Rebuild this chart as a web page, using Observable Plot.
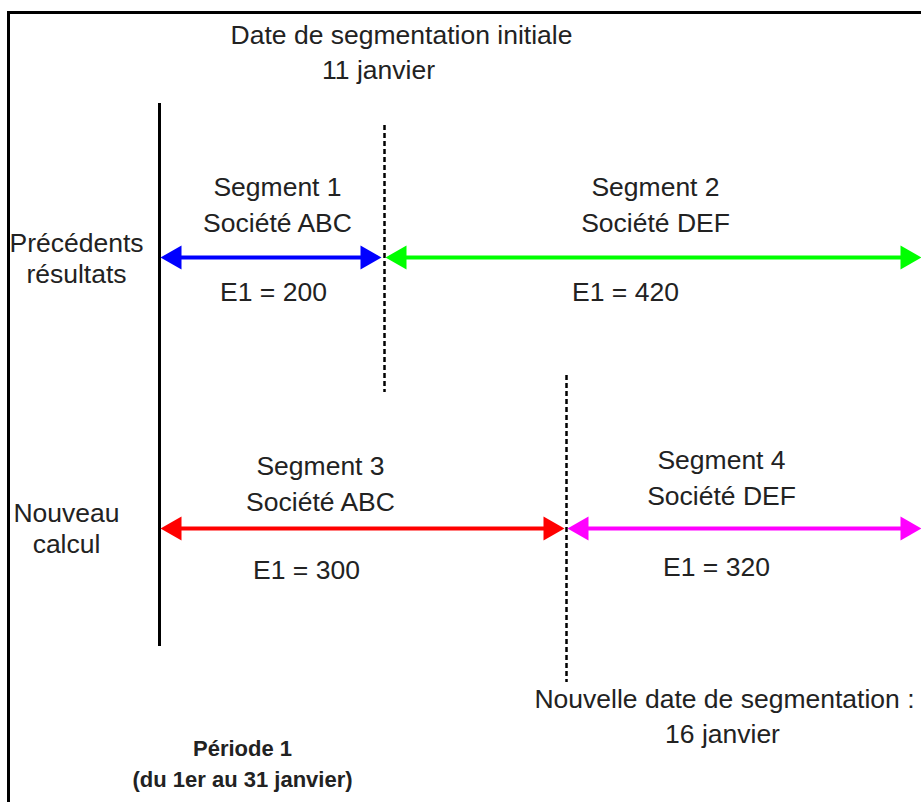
<!DOCTYPE html>
<html><head><meta charset="utf-8">
<script src="https://cdn.jsdelivr.net/npm/d3@7"></script>
<script src="https://cdn.jsdelivr.net/npm/@observablehq/plot@0.6"></script>
<style>body{margin:0;background:#fff}</style>
</head><body><div id="chart"></div>
<script>
// --- data (diagram layout units) ---
const segmentNames = ["Segment 1", "Segment 2", "Segment 3", "Segment 4"];
const companies = ["Société ABC", "Société DEF", "Société ABC", "Société DEF"];
const e1Values = [200, 420, 300, 320];
const segStart = [160, 385, 160, 567];
const segEnd = [381, 921, 564, 921];
const segRowY = [257, 257, 528, 528];
const segColors = ["#0000ff", "#00ff00", "#ff0000", "#ff00ff"];
const segLabelX = [277, 655, 320, 721];
const segLabelY = [187, 187, 466, 460];
const e1LabelX = [273, 625, 306, 716];
const e1LabelY = [292, 292, 570, 567];

const rowLabels = [["Précédents", "résultats"], ["Nouveau", "calcul"]];
const rowLabelX = [76, 66];
const rowLabelY = [243, 513];

const dateLabels = [["Date de segmentation initiale", "11 janvier"], ["Nouvelle date de segmentation :", "16 janvier"]];
const dateLabelX = [[401, 378], [724, 722]];
const dateLabelY = [35, 699];
const dateLineX = [384, 566];
const dateLineY1 = [125, 375];
const dateLineY2 = [392, 682];

const periodLabels = ["Période 1", "(du 1er au 31 janvier)"];
const periodX = 242, periodY = 748;
const periodLine = {x: 159, y1: 103, y2: 646};

// --- build tables ---
const segs = segmentNames.map((name, i) => ({
  name, company: companies[i], e1: `E1 = ${e1Values[i]}`,
  x1: segStart[i], x2: segEnd[i], y: segRowY[i], color: segColors[i],
  lx: segLabelX[i], ly: segLabelY[i], ex: e1LabelX[i], ey: e1LabelY[i]
}));
const texts = [];
segs.forEach(s => {
  texts.push({x: s.lx, y: s.ly, t: s.name});
  texts.push({x: s.lx, y: s.ly + 36, t: s.company});
  texts.push({x: s.ex, y: s.ey, t: s.e1});
});
rowLabels.forEach((ls, i) => ls.forEach((t, j) => texts.push({x: rowLabelX[i], y: rowLabelY[i] + j * 31, t})));
dateLabels.forEach((ls, i) => ls.forEach((t, j) => texts.push({x: dateLabelX[i][j], y: dateLabelY[i] + j * 35, t})));
const boldTexts = periodLabels.map((t, j) => ({x: periodX, y: periodY + j * 31, t}));
const dates = dateLineX.map((x, i) => ({x, y1: dateLineY1[i], y2: dateLineY2[i]}));

const chart = Plot.plot({
  width: 921, height: 802, margin: 0,
  x: {domain: [0, 921], axis: null},
  y: {domain: [0, 802], reverse: true, axis: null},
  style: {fontFamily: "'Liberation Sans', Arial, sans-serif", background: "#fff"},
  marks: [
    // frame (top and left)
    Plot.ruleY([12], {x1: 7, x2: 921, stroke: "#000", strokeWidth: 3}),
    Plot.ruleX([8], {y1: 11, y2: 802, stroke: "#000", strokeWidth: 3}),
    // period start line
    Plot.ruleX([periodLine], {x: "x", y1: "y1", y2: "y2", stroke: "#000", strokeWidth: 3}),
    // segmentation dates
    Plot.ruleX(dates, {x: "x", y1: "y1", y2: "y2", stroke: "#000", strokeWidth: 2.5, strokeDasharray: "5,3"}),
    // segment arrows
    Plot.ruleY(segs, {y: "y", x1: d => d.x1 + 10, x2: d => d.x2 - 10, stroke: "color", strokeWidth: 4}),
    Plot.dot(segs, {x: "x2", y: "y", symbol: "triangle", r: 9, rotate: 90, dx: -14, fill: "color", stroke: "none"}),
    Plot.dot(segs, {x: "x1", y: "y", symbol: "triangle", r: 9, rotate: -90, dx: 14, fill: "color", stroke: "none"}),
    // texts
    Plot.text(texts, {x: "x", y: "y", text: "t", fontSize: 26.5, fill: "#222"}),
    Plot.text(boldTexts, {x: "x", y: "y", text: "t", fontSize: 22, fontWeight: "bold", fill: "#222"})
  ]
});
chart.style.display = "block";
document.getElementById("chart").append(chart);
</script>
</body></html>
